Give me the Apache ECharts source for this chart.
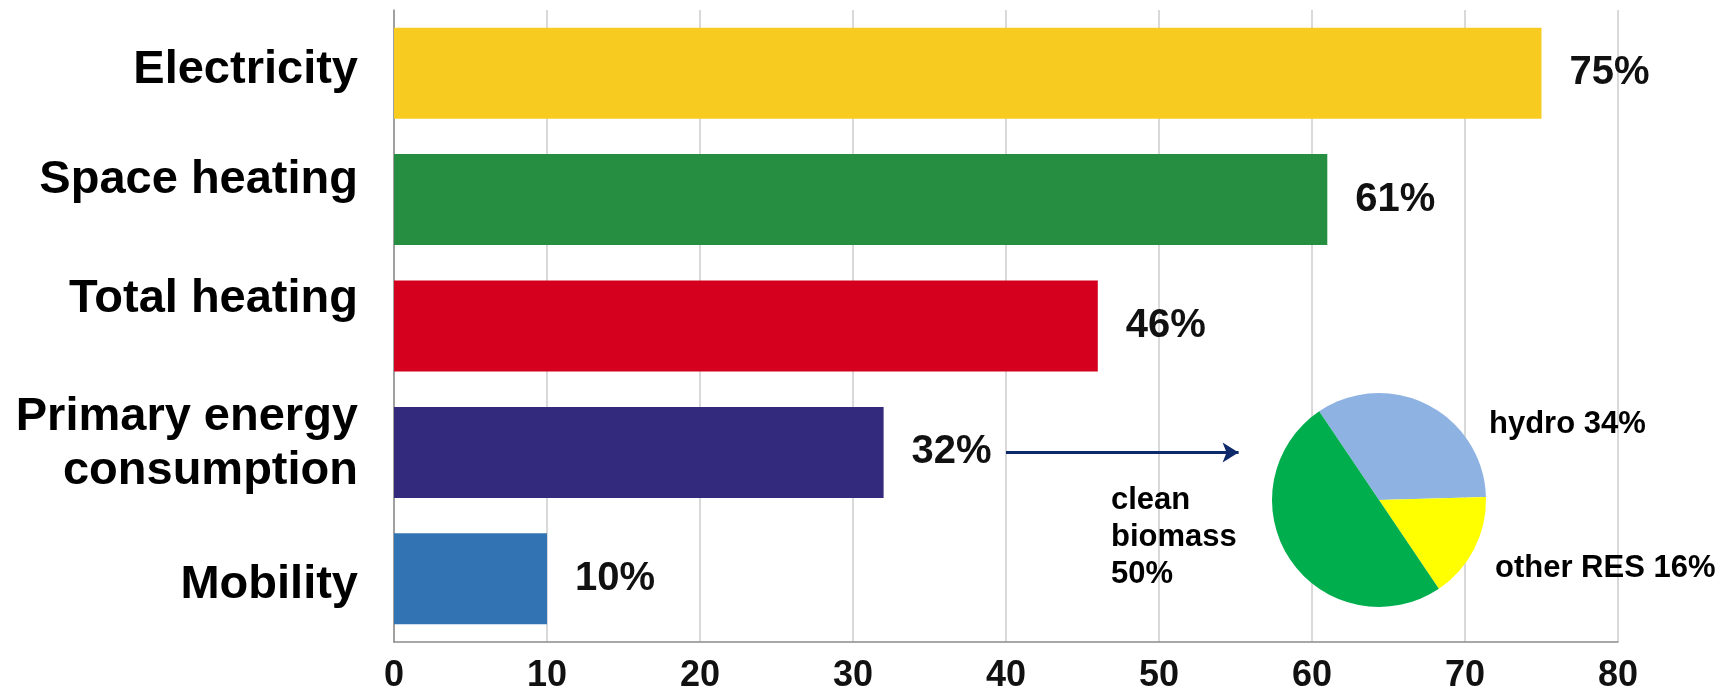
<!DOCTYPE html>
<html>
<head>
<meta charset="utf-8">
<script src="https://cdn.jsdelivr.net/npm/echarts@6/dist/echarts.min.js"></script>
<style>
  html, body { margin: 0; padding: 0; background: #ffffff; }
  #chart { width: 1724px; height: 698px; }
</style>
</head>
<body>
<div id="chart"></div>
<script>
// ---- data ----
const categories = ['Electricity', 'Space heating', 'Total heating', 'Primary energy\nconsumption', 'Mobility'];
const shares = [75, 61, 46, 32, 10];
const xTicks = { min: 0, max: 80, interval: 10 };
const pieNames = ['hydro', 'other RES', 'clean biomass'];
const pieValues = [34, 16, 50];
const arrowFrom = 40;   // value-axis position where the arrow starts
const arrowTo = 55.2;   // value-axis position of the arrow head
const arrowCategory = categories[3];

// ---- styles ----
const barColors = ['#F8CB21', '#268E40', '#D4001D', '#33297D', '#3173B3'];
const pieColors = ['#8EB3E3', '#FFFF00', '#00AE4D'];
const labelLift = [3.5, 20, 26.5, 8.5, -6.5];
const FONT = '"Liberation Sans", Arial, Helvetica, sans-serif';

const chart = echarts.init(document.getElementById('chart'), null, { renderer: 'canvas' });

const rich = {
  t: { fontFamily: FONT, fontWeight: 'bold', fontSize: 47, lineHeight: 54, color: '#000', align: 'right' }
};
labelLift.forEach((l, i) => {
  const h = Math.max(Math.abs(2 * l), 1);
  rich['g' + i] = { fontSize: 1, lineHeight: h, height: h };
});

const pieLabelPos = [
  { x: 1489, y: 424, align: 'left', verticalAlign: 'middle' },
  { x: 1495, y: 568, align: 'left', verticalAlign: 'middle' },
  { x: 1111, y: 537, align: 'left', verticalAlign: 'middle' }
];

const option = {
  backgroundColor: '#ffffff',
  animation: false,
  grid: { left: 394, right: 106, top: 10, bottom: 56, containLabel: false },
  xAxis: {
    type: 'value',
    min: xTicks.min, max: xTicks.max, interval: xTicks.interval,
    axisLine: { show: true, lineStyle: { color: '#8c8c8c', width: 1.5 } },
    axisTick: { show: false },
    splitLine: { show: true, lineStyle: { color: '#d9d9d9', width: 2 } },
    axisLabel: {
      margin: 16, color: '#111', fontFamily: FONT, fontWeight: 'bold', fontSize: 36
    }
  },
  yAxis: {
    type: 'category',
    inverse: true,
    data: categories,
    axisLine: { show: true, lineStyle: { color: '#8c8c8c', width: 1.5 } },
    axisTick: { show: false },
    splitLine: { show: false },
    axisLabel: {
      margin: 36, color: '#000', fontFamily: FONT, fontWeight: 'bold', fontSize: 47,
      lineHeight: 54, align: 'right',
      formatter: (value, index) => {
        const lines = value.split('\n').map(s => '{t|' + s + '}').join('\n');
        const gap = '{g' + index + '| }';
        const l = labelLift[index];
        if (l > 0) return lines + '\n' + gap;
        if (l < 0) return gap + '\n' + lines;
        return lines;
      },
      rich: rich
    }
  },
  series: [
    {
      type: 'bar',
      barCategoryGap: '28%',
      data: shares.map((v, i) => ({ value: v, itemStyle: { color: barColors[i] } })),
      label: {
        show: true, position: 'right', distance: 28,
        formatter: p => p.value + '%',
        color: '#111', fontFamily: FONT, fontWeight: 'bold', fontSize: 40
      },
      silent: true,
      markLine: {
        silent: true,
        symbol: ['none', 'arrow'],
        symbolSize: [15, 16],
        label: { show: false },
        lineStyle: { color: '#0E2A6A', width: 3, type: 'solid' },
        emphasis: { disabled: true },
        data: [[
          { coord: [arrowFrom, arrowCategory] },
          { coord: [arrowTo, arrowCategory] }
        ]]
      }
    },
    {
      type: 'pie',
      center: [1379, 500],
      radius: 107,
      startAngle: 124,
      clockwise: true,
      silent: true,
      z: 5,
      data: pieNames.map((n, i) => ({ name: n, value: pieValues[i], itemStyle: { color: pieColors[i] } })),
      label: {
        show: true, position: 'outside', alignTo: 'none', overflow: 'none', edgeDistance: 0, bleedMargin: 0,
        color: '#000', fontFamily: FONT, fontWeight: 'bold', fontSize: 31, lineHeight: 37,
        formatter: p => {
          const sep = p.dataIndex === 2 ? '\n' : ' ';
          return p.name.split(' ').join(sep) + sep + p.value + '%';
        }
      },
      labelLine: { show: false },
      labelLayout: params => pieLabelPos[params.dataIndex]
    }
  ]
};

chart.setOption(option);
</script>
</body>
</html>
